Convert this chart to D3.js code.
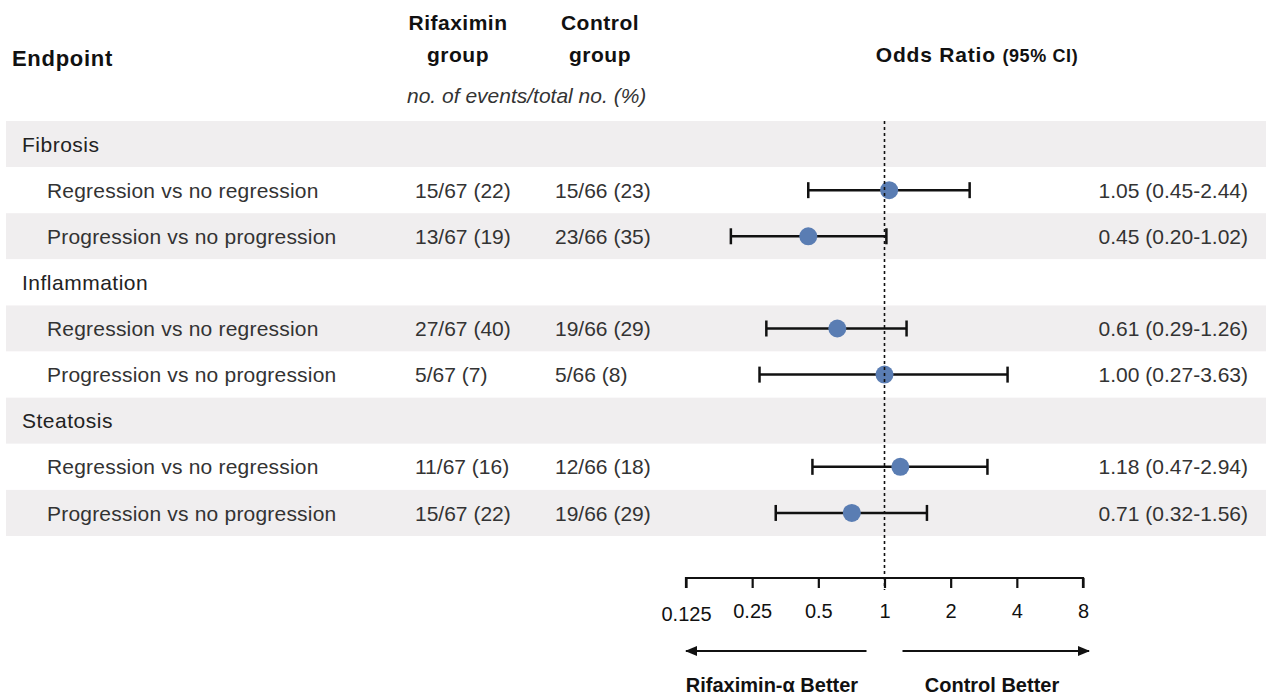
<!DOCTYPE html>
<html>
<head>
<meta charset="utf-8">
<script src="https://cdn.jsdelivr.net/npm/d3@7"></script>
<style>
  body { margin: 0; background: #fff; }
  svg { font-family: "Helvetica Neue", Helvetica, Arial, "Liberation Sans", sans-serif; }
</style>
</head>
<body>
<svg id="chart" width="1266" height="698"></svg>
<script>
// rows of the table, top to bottom
var labels = ["Fibrosis", "Regression vs no regression", "Progression vs no progression",
              "Inflammation", "Regression vs no regression", "Progression vs no progression",
              "Steatosis", "Regression vs no regression", "Progression vs no progression"];
var isGroup = [true, false, false, true, false, false, true, false, false];
var rifaximin = ["", "15/67 (22)", "13/67 (19)", "", "27/67 (40)", "5/67 (7)", "", "11/67 (16)", "15/67 (22)"];
var control = ["", "15/66 (23)", "23/66 (35)", "", "19/66 (29)", "5/66 (8)", "", "12/66 (18)", "19/66 (29)"];
var oddsRatio = [null, 1.05, 0.45, null, 0.61, 1.00, null, 1.18, 0.71];
var lower = [null, 0.45, 0.20, null, 0.29, 0.27, null, 0.47, 0.32];
var upper = [null, 2.44, 1.02, null, 1.26, 3.63, null, 2.94, 1.56];
var tickValues = [0.125, 0.25, 0.5, 1, 2, 4, 8];

var svg = d3.select("#chart");

var x = d3.scaleLog().base(2).domain([0.125, 8]).range([686, 1083]);
var y = d3.scaleBand().domain(d3.range(labels.length)).range([121, 536]);

var fmt = function (v) { return v.toFixed(2); };

// alternating bands
svg.selectAll("rect.band")
  .data(labels)
  .enter()
  .append("rect")
    .attr("class", "band")
    .attr("x", 6)
    .attr("width", 1260)
    .attr("y", function (d, i) { return y(i); })
    .attr("height", y.bandwidth())
    .attr("fill", function (d, i) { return i % 2 == 0 ? "#f0eeef" : "#fff"; });

// headers
svg.append("text").attr("x", 12).attr("y", 66)
  .attr("font-size", 22).attr("font-weight", "bold").attr("letter-spacing", 0.7).attr("fill", "#111")
  .text("Endpoint");

var heads = [["Rifaximin", "group", 458], ["Control", "group", 600]];
heads.forEach(function (h) {
  var t = svg.append("text").attr("text-anchor", "middle")
    .attr("font-size", 21).attr("font-weight", "bold").attr("letter-spacing", 0.5).attr("fill", "#111");
  t.append("tspan").attr("x", h[2]).attr("y", 30).text(h[0]);
  t.append("tspan").attr("x", h[2]).attr("y", 62).text(h[1]);
});

svg.append("text").attr("x", 407).attr("y", 103)
  .attr("font-size", 21).attr("font-style", "italic").attr("fill", "#333")
  .text("no. of events/total no. (%)");

var orHead = svg.append("text").attr("x", 977).attr("y", 62)
  .attr("text-anchor", "middle").attr("font-weight", "bold").attr("fill", "#111");
orHead.append("tspan").attr("font-size", 21).attr("letter-spacing", 0.8).text("Odds Ratio ");
orHead.append("tspan").attr("font-size", 18).attr("letter-spacing", 0.6).text("(95% CI)");

// table text
var rows = svg.selectAll("g.row")
  .data(labels)
  .enter()
  .append("g")
    .attr("class", "row")
    .attr("transform", function (d, i) { return "translate(0," + (y(i) + y.bandwidth() / 2) + ")"; });

rows.append("text")
  .attr("x", function (d, i) { return isGroup[i] ? 22 : 47; })
  .attr("dy", "0.36em")
  .attr("font-size", 21)
  .attr("letter-spacing", function (d, i) { return isGroup[i] ? 0.5 : 0.2; })
  .attr("fill", function (d, i) { return isGroup[i] ? "#222" : "#333"; })
  .text(function (d) { return d; });

rows.append("text").attr("x", 415).attr("dy", "0.36em")
  .attr("font-size", 21).attr("fill", "#333")
  .text(function (d, i) { return rifaximin[i]; });

rows.append("text").attr("x", 555).attr("dy", "0.36em")
  .attr("font-size", 21).attr("fill", "#333")
  .text(function (d, i) { return control[i]; });

rows.append("text").attr("x", 1248).attr("dy", "0.36em")
  .attr("text-anchor", "end").attr("font-size", 21).attr("fill", "#333")
  .text(function (d, i) { return oddsRatio[i] == null ? "" : fmt(oddsRatio[i]) + " (" + fmt(lower[i]) + "-" + fmt(upper[i]) + ")"; });

// reference line at OR = 1
svg.append("line")
  .attr("x1", x(1)).attr("x2", x(1))
  .attr("y1", 121).attr("y2", 590)
  .attr("stroke", "#111").attr("stroke-width", 1.6)
  .attr("stroke-dasharray", "3,3");

// error bars and points
rows.each(function (d, i) {
  if (oddsRatio[i] == null) return;
  var g = d3.select(this);
  g.append("line")
    .attr("x1", x(lower[i])).attr("x2", x(upper[i]))
    .attr("stroke", "#111").attr("stroke-width", 2.5);
  [lower[i], upper[i]].forEach(function (v) {
    g.append("line")
      .attr("x1", x(v)).attr("x2", x(v))
      .attr("y1", -8).attr("y2", 8)
      .attr("stroke", "#111").attr("stroke-width", 2.5);
  });
  g.append("circle")
    .attr("cx", x(oddsRatio[i]))
    .attr("r", 9)
    .attr("fill", "#5a7db3");
});

// axis
var axis = d3.axisBottom(x)
  .tickValues(tickValues)
  .tickSize(10)
  .tickPadding(16)
  .tickFormat(function (d) { return String(d); });

var ax = svg.append("g")
  .attr("transform", "translate(0,578)")
  .call(axis);
ax.select(".domain").attr("d", "M" + x(0.125) + ",10V0H" + x(8) + "V10").attr("stroke", "#111").attr("stroke-width", 2.2);
ax.selectAll(".tick line").attr("stroke", "#111").attr("stroke-width", 2.2);
ax.selectAll(".tick text").attr("font-size", 20).attr("fill", "#111")
  .attr("font-family", "\"Helvetica Neue\", Helvetica, Arial, \"Liberation Sans\", sans-serif");
ax.selectAll(".tick").filter(function (d) { return d == 0.125; }).select("text").attr("dy", "0.83em");

// direction arrows
var defs = svg.append("defs");
defs.append("marker")
  .attr("id", "arrow")
  .attr("viewBox", "0 0 12 10")
  .attr("refX", 11).attr("refY", 5)
  .attr("markerWidth", 6).attr("markerHeight", 5)
  .attr("orient", "auto")
  .append("path").attr("d", "M0,0L12,5L0,10Z").attr("fill", "#111");

svg.append("line")
  .attr("x1", x(1) - 18).attr("x2", x(0.125))
  .attr("y1", 651).attr("y2", 651)
  .attr("stroke", "#111").attr("stroke-width", 2)
  .attr("marker-end", "url(#arrow)");
svg.append("line")
  .attr("x1", x(1) + 18).attr("x2", x(8) + 6)
  .attr("y1", 651).attr("y2", 651)
  .attr("stroke", "#111").attr("stroke-width", 2)
  .attr("marker-end", "url(#arrow)");

svg.append("text").attr("x", 772).attr("y", 692)
  .attr("text-anchor", "middle").attr("font-size", 20).attr("font-weight", "bold").attr("fill", "#111")
  .text("Rifaximin-α Better");
svg.append("text").attr("x", 992).attr("y", 692)
  .attr("text-anchor", "middle").attr("font-size", 20).attr("font-weight", "bold").attr("fill", "#111")
  .text("Control Better");
</script>
</body>
</html>
